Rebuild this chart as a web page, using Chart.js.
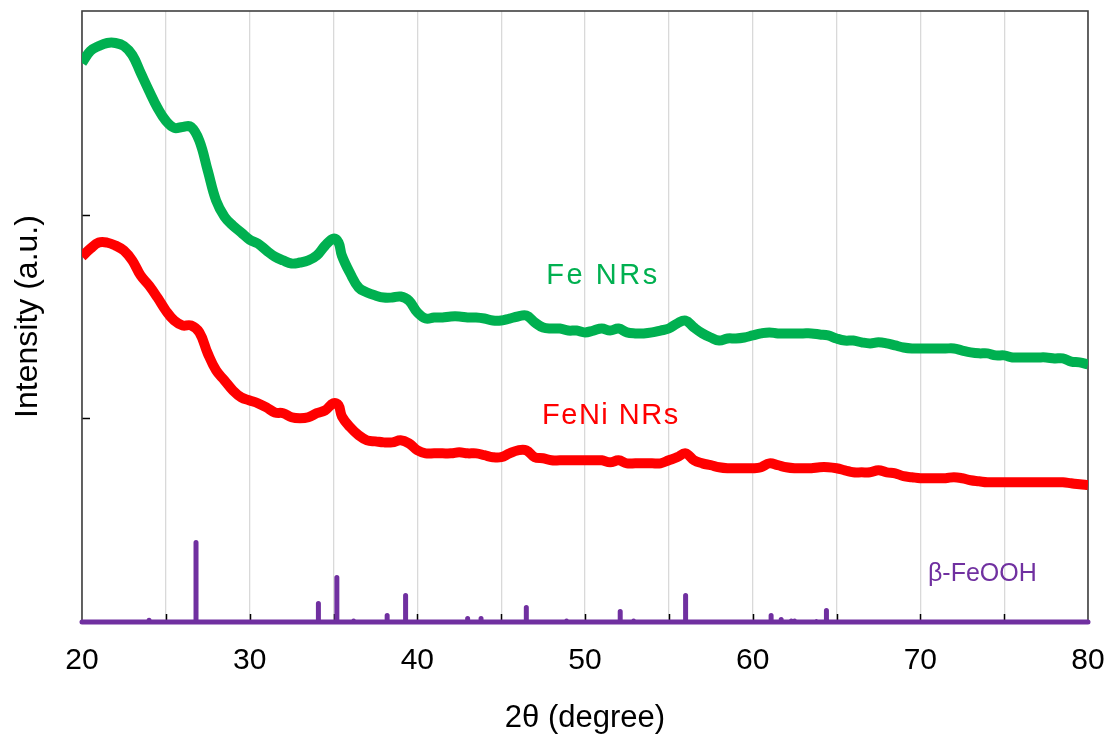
<!DOCTYPE html>
<html><head><meta charset="utf-8">
<script src="https://cdn.jsdelivr.net/npm/chart.js@4/dist/chart.umd.min.js"></script>
<style>html,body{margin:0;padding:0;background:#fff;}canvas{display:block;}</style>
</head><body>
<canvas id="c" width="1110" height="740"></canvas>
<script>
// 2θ sampling positions (degrees)
const twoTheta = [20,20.5,21,21.5,22,22.5,23,23.5,24,24.5,25,25.5,26,26.5,27,27.5,28,28.5,29,29.5,30,30.5,31,31.5,32,32.5,33,33.5,34,34.5,35,35.3,35.5,36,36.5,37,37.5,38,38.5,39,39.5,40,40.5,41,41.5,42,42.5,43,43.5,44,44.5,45,45.5,46,46.5,47,47.5,48,48.5,49,49.5,50,50.5,51,51.5,52,52.5,53,53.5,54,54.5,55,55.5,56,56.5,57,57.5,58,58.5,59,59.5,60,60.5,61,61.5,62,62.5,63,63.5,64,64.5,65,65.5,66,66.5,67,67.5,68,68.5,69,69.5,70,70.5,71,71.5,72,72.5,73,73.5,74,74.5,75,75.5,76,76.5,77,77.5,78,78.5,79,79.5,80];

// Fe NRs intensity (a.u., offset)
const feNRs = [2.745,2.804,2.828,2.843,2.843,2.828,2.784,2.696,2.608,2.525,2.461,2.426,2.431,2.431,2.363,2.216,2.069,1.990,1.946,1.912,1.877,1.858,1.824,1.794,1.775,1.760,1.765,1.775,1.799,1.848,1.882,1.863,1.799,1.711,1.642,1.618,1.603,1.593,1.593,1.598,1.578,1.520,1.490,1.495,1.495,1.500,1.500,1.495,1.495,1.490,1.480,1.480,1.490,1.500,1.505,1.471,1.446,1.441,1.441,1.431,1.431,1.422,1.431,1.441,1.431,1.441,1.422,1.417,1.417,1.422,1.431,1.441,1.466,1.480,1.446,1.417,1.397,1.382,1.392,1.392,1.397,1.407,1.417,1.422,1.417,1.417,1.417,1.417,1.417,1.412,1.407,1.392,1.382,1.382,1.373,1.368,1.373,1.368,1.358,1.348,1.343,1.343,1.343,1.343,1.343,1.343,1.333,1.324,1.319,1.319,1.309,1.309,1.299,1.299,1.299,1.299,1.299,1.294,1.294,1.279,1.275,1.265];

// FeNi NRs intensity (a.u., offset)
const feNiNRs = [1.794,1.833,1.863,1.863,1.848,1.824,1.775,1.701,1.652,1.593,1.529,1.480,1.456,1.456,1.422,1.319,1.235,1.186,1.137,1.103,1.088,1.074,1.054,1.029,1.025,1.005,1.000,1.005,1.025,1.039,1.074,1.064,1.010,0.956,0.917,0.892,0.887,0.882,0.882,0.892,0.877,0.843,0.828,0.828,0.828,0.828,0.833,0.828,0.828,0.819,0.809,0.809,0.828,0.843,0.843,0.809,0.804,0.794,0.794,0.794,0.794,0.794,0.794,0.794,0.784,0.794,0.779,0.779,0.779,0.779,0.779,0.794,0.809,0.828,0.794,0.779,0.770,0.760,0.755,0.755,0.755,0.755,0.760,0.779,0.770,0.760,0.755,0.755,0.755,0.760,0.760,0.755,0.745,0.735,0.735,0.735,0.745,0.735,0.730,0.716,0.711,0.706,0.706,0.706,0.706,0.711,0.706,0.696,0.691,0.686,0.686,0.686,0.686,0.686,0.686,0.686,0.686,0.686,0.686,0.681,0.676,0.672];

// β-FeOOH reference pattern: stick positions and heights
const refPos = [24.0,26.8,34.1,35.2,36.2,38.2,39.3,43.0,43.8,46.5,48.9,52.1,52.9,56.0,61.1,61.7,62.3,62.5,63.8,64.4];
const refInt = [0.008,0.390,0.091,0.218,0.005,0.032,0.130,0.017,0.017,0.071,0.005,0.051,0.005,0.130,0.032,0.012,0.005,0.005,0.003,0.056];

// axis tick labels
const xTickLabels = [20,30,40,50,60,70,80];
const seriesNames = ['Fe NRs','FeNi NRs','β-FeOOH'];

const feData = twoTheta.map((x,i)=>({x, y: feNRs[i]}));
const feNiData = twoTheta.map((x,i)=>({x, y: feNiNRs[i]}));
const refData = [{x:20,y:0}];
refPos.forEach((p,i)=>{ refData.push({x:p,y:0},{x:p,y:refInt[i]},{x:p,y:0}); });
refData.push({x:80,y:0});

const FONT = "'Liberation Sans', Arial, sans-serif";

const framePlugin = {
  id: 'frame',
  beforeDatasetsDraw(chart) {
    const {ctx, chartArea: a, scales: {x, y}} = chart;
    ctx.save();
    ctx.strokeStyle = '#000';
    ctx.lineWidth = 1.5;
    for (let v = 25; v < 80; v += 5) {
      const px = Math.round(x.getPixelForValue(v)) + 0.5;
      ctx.beginPath(); ctx.moveTo(px, a.bottom); ctx.lineTo(px, a.bottom - 8); ctx.stroke();
    }
    for (let v = 1; v < 3; v += 1) {
      const py = Math.round(y.getPixelForValue(v)) + 0.5;
      ctx.beginPath(); ctx.moveTo(a.left, py); ctx.lineTo(a.left + 8, py); ctx.stroke();
    }
    ctx.strokeStyle = '#404040';
    ctx.lineWidth = 1.6;
    ctx.strokeRect(a.left, a.top, a.right - a.left, a.bottom - a.top);
    ctx.restore();
  },
  afterDatasetsDraw(chart) {
    const {ctx, scales: {x, y}} = chart;
    const labels = [
      {t: seriesNames[0], x: 51.0, y: 1.662, c: '#00B050', f: 29, ls: 2.5},
      {t: seriesNames[1], x: 51.5, y: 0.971, c: '#FF0000', f: 29, ls: 1.5},
      {t: seriesNames[2], x: 73.7, y: 0.201, c: '#7030A0', f: 25, ls: 0}
    ];
    ctx.save();
    ctx.textAlign = 'center';
    ctx.textBaseline = 'alphabetic';
    labels.forEach(l => {
      ctx.font = l.f + 'px ' + FONT;
      ctx.fillStyle = l.c;
      if ('letterSpacing' in ctx) ctx.letterSpacing = l.ls + 'px';
      ctx.fillText(l.t, x.getPixelForValue(l.x) + l.ls / 2, y.getPixelForValue(l.y));
    });
    ctx.restore();
  }
};

new Chart(document.getElementById('c'), {
  type: 'line',
  data: {
    datasets: [
      {label: seriesNames[0], data: feData, borderColor: '#00B050', backgroundColor: '#00B050', borderWidth: 10, pointRadius: 0, tension: 0.4, fill: false},
      {label: seriesNames[1], data: feNiData, borderColor: '#FF0000', backgroundColor: '#FF0000', borderWidth: 10, pointRadius: 0, tension: 0.4, fill: false},
      {label: seriesNames[2], data: refData, borderColor: '#7030A0', backgroundColor: '#7030A0', borderWidth: 5, pointRadius: 0, tension: 0, fill: false, borderCapStyle: 'round', borderJoinStyle: 'round', clip: false}
    ]
  },
  options: {
    responsive: false,
    animation: false,
    devicePixelRatio: 1,
    layout: {padding: {top: 11, right: 22, left: 0, bottom: 0}},
    plugins: {legend: {display: false}, tooltip: {enabled: false}},
    scales: {
      x: {
        type: 'linear', min: 20, max: 80,
        afterFit: s => { s.height = 118; s.paddingLeft = 0; s.paddingRight = 0; },
        border: {display: false},
        grid: {color: '#d9d9d9', lineWidth: 1.3, drawTicks: false},
        ticks: {stepSize: 5, autoSkip: false, maxRotation: 0, padding: 21, color: '#000',
          font: {family: FONT, size: 30},
          callback: v => xTickLabels.includes(v) ? String(v) : ''},
        title: {display: true, text: '2θ (degree)', color: '#000', font: {family: FONT, size: 31}, padding: {top: 0, bottom: 3}}
      },
      y: {
        type: 'linear', min: 0, max: 3,
        afterFit: s => { s.width = 82; s.paddingTop = 0; s.paddingBottom = 0; },
        border: {display: false},
        grid: {display: false, drawTicks: false},
        ticks: {display: false, stepSize: 1},
        title: {display: true, text: 'Intensity (a.u.)', color: '#000', font: {family: FONT, size: 32}, padding: {top: 9, bottom: 0}}
      }
    }
  },
  plugins: [framePlugin]
});
</script>
</body></html>
